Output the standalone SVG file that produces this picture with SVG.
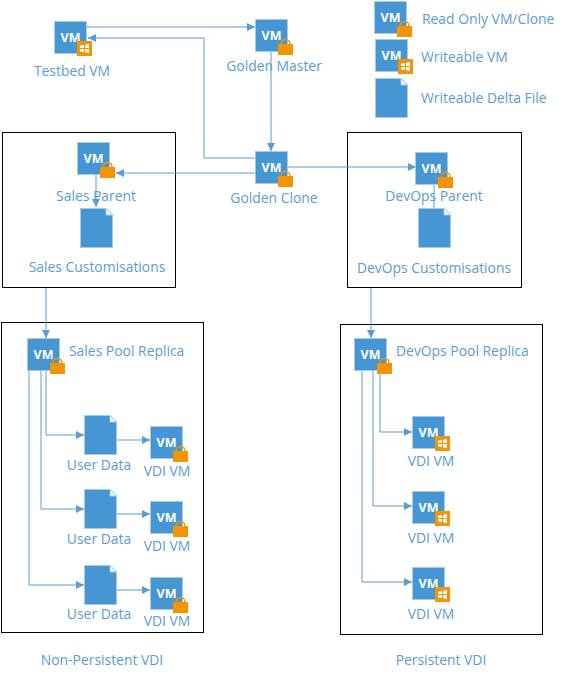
<svg xmlns="http://www.w3.org/2000/svg" width="565" height="678" viewBox="0 0 565 678">
<style>
text{font-family:"Open Sans","Noto Sans","Liberation Sans",sans-serif;font-size:13.9px;fill:#5b9bd5;text-anchor:middle}
.s{text-anchor:start}
.box{fill:none;stroke:#000;stroke-width:1}
.c{fill:none;stroke:#5b9bd5;stroke-width:1;marker-end:url(#a)}
text.vmt{font-family:"Open Sans","Liberation Sans",sans-serif;font-size:12.5px;font-weight:700;fill:#fff}
</style>
<defs>
<marker id="a" markerUnits="userSpaceOnUse" markerWidth="9" markerHeight="8" refX="8" refY="4" orient="auto"><path d="M0 0L8 4L0 8Z" fill="#5b9bd5"/></marker>
<g id="vm"><rect x="0.500" y="0.500" width="32" height="32" fill="#4596d2" stroke="#a6cbe8"/><text class="vmt" x="16.500" y="21">VM</text></g>
<g id="lock"><path d="M3 6V5A4.500 4.500 0 0 1 12 5V6" fill="none" stroke="#f59300" stroke-width="1.500"/><rect x="0" y="5" width="15" height="11" fill="#f59300"/></g>
<g id="win"><rect x="0" y="0" width="15" height="15" fill="#f59300"/><path d="M3 4.500L7 4V7H3ZM8 3.800L12 3V7H8ZM3 8H7V11L3 10.500ZM8 8H12V12L8 11.200Z" fill="#fff"/></g>
<g id="ro"><use href="#vm"/><use href="#lock" x="23" y="20"/></g>
<g id="rw"><use href="#vm"/><use href="#win" x="23" y="20"/></g>
<g id="file"><path d="M0.500 0.500H26L32.500 7V39.500H0.500Z" fill="#4596d2" stroke="#a6cbe8"/><path d="M26 0.500V7H32.500Z" fill="#fff" stroke="#a6cbe8"/></g>
</defs>
<g id="containers">
<rect class="box" x="2.500" y="132.500" width="173" height="155"/>
<rect class="box" x="347.500" y="132.500" width="174" height="155"/>
<rect class="box" x="1.500" y="322.500" width="202" height="310"/>
<rect class="box" x="340.500" y="324.500" width="202" height="310"/>
</g>
<g id="connectors">
<path class="c" d="M87 27H255"/>
<path class="c" d="M255 158H204V38H88"/>
<path class="c" d="M271 51V151"/>
<path class="c" d="M255 173H116"/>
<path class="c" d="M288 167H416"/>
<path class="c" d="M96 174V207"/>
<path class="c" d="M434 184V218"/>
<path class="c" d="M46 288V338"/>
<path class="c" d="M371 288V338"/>
<path class="c" d="M46 370V435H84"/>
<path class="c" d="M41 370V509H84"/>
<path class="c" d="M29 370V585H84"/>
<path class="c" d="M116 440H150"/>
<path class="c" d="M116 514H150"/>
<path class="c" d="M116 590H150"/>
<path class="c" d="M380 370V432H412"/>
<path class="c" d="M373 370V506H412"/>
<path class="c" d="M362 370V582H412"/>
</g>
<g id="testbed"><use href="#rw" x="54" y="21"/><text x="72" y="76">Testbed VM</text></g>
<g id="golden-master"><use href="#ro" x="255" y="19"/><text x="274" y="71">Golden Master</text></g>
<g id="golden-clone"><use href="#ro" x="255" y="151"/><text x="274" y="203">Golden Clone</text></g>
<g id="sales-parent"><use href="#ro" x="77" y="142"/><text x="96" y="201">Sales Parent</text></g>
<g id="sales-delta"><use href="#file" x="80" y="208"/><text x="97" y="272">Sales Customisations</text></g>
<g id="devops-parent"><use href="#ro" x="415" y="152"/><text x="434" y="201">DevOps Parent</text></g>
<g id="devops-delta"><use href="#file" x="418" y="208"/><text x="434" y="273">DevOps Customisations</text></g>
<g id="legend-ro"><use href="#ro" x="374" y="1"/><text class="s" x="422" y="24">Read Only VM/Clone</text></g>
<g id="legend-rw"><use href="#rw" x="375" y="39"/><text class="s" x="421" y="62">Writeable VM</text></g>
<g id="legend-file"><use href="#file" x="375" y="78"/><text class="s" x="421" y="103">Writeable Delta File</text></g>
<g id="sales-pool"><use href="#ro" x="27" y="338"/><text class="s" x="69" y="356">Sales Pool Replica</text></g>
<g id="ud1"><use href="#file" x="84" y="415"/><text x="99" y="470">User Data</text></g>
<g id="ud2"><use href="#file" x="84" y="489"/><text x="99" y="544">User Data</text></g>
<g id="ud3"><use href="#file" x="84" y="565"/><text x="99" y="619">User Data</text></g>
<g id="vdi1"><use href="#ro" x="150" y="426"/><text x="167" y="476">VDI VM</text></g>
<g id="vdi2"><use href="#ro" x="150" y="501"/><text x="167" y="551">VDI VM</text></g>
<g id="vdi3"><use href="#ro" x="150" y="577"/><text x="167" y="626">VDI VM</text></g>
<g id="devops-pool"><use href="#ro" x="354" y="338"/><text class="s" x="396" y="356">DevOps Pool Replica</text></g>
<g id="vdi4"><use href="#rw" x="412" y="416"/><text x="431" y="466">VDI VM</text></g>
<g id="vdi5"><use href="#rw" x="412" y="491"/><text x="431" y="543">VDI VM</text></g>
<g id="vdi6"><use href="#rw" x="412" y="567"/><text x="431" y="619">VDI VM</text></g>
<g id="captions"><text x="102" y="665">Non-Persistent VDI</text><text x="441" y="665">Persistent VDI</text></g>
</svg>
